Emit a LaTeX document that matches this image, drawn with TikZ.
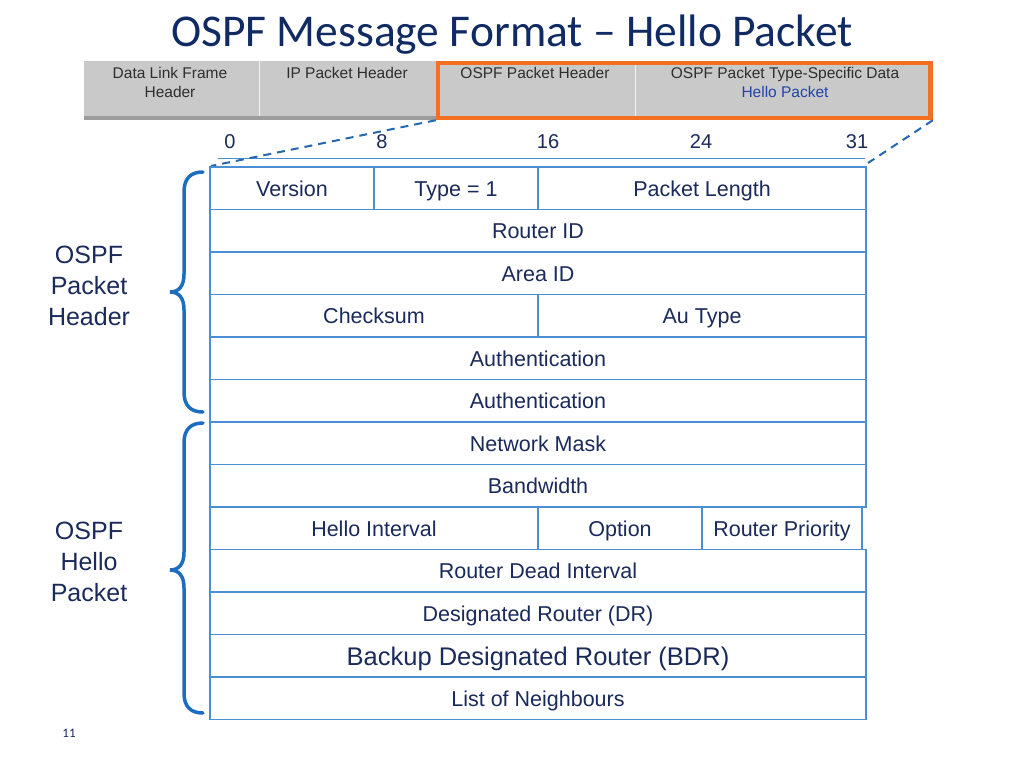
\documentclass[tikz,border=0pt]{standalone}
\usepackage{fontspec}
\setmainfont{Liberation Sans}
\newfontfamily\titlefont{Carlito}

\definecolor{titlenavy}{HTML}{102A63}
\definecolor{textnavy}{HTML}{1A2A5A}
\definecolor{tblblue}{HTML}{4A8FD3}
\definecolor{braceblue}{HTML}{1F6DBE}
\definecolor{dashblue}{HTML}{2468B0}
\definecolor{selorange}{HTML}{F36F21}
\definecolor{bargray}{HTML}{C9C9C9}
\definecolor{barshade}{HTML}{9C9C9C}
\definecolor{bartext}{HTML}{2E2E2E}
\definecolor{hellobl}{HTML}{2244A8}

\tikzset{
  cell/.style={draw=tblblue, line width=1.2pt},
  celltext/.style={text=textnavy, font=\fontsize{21.5}{24}\selectfont, text height=19.4pt, text depth=3.4pt},
  bittext/.style={text=textnavy, font=\fontsize{20}{22}\selectfont},
  bartxt/.style={text=bartext, font=\fontsize{15.5}{19}\selectfont, align=center, anchor=north, inner sep=0pt},
  sidelabel/.style={text=textnavy, font=\fontsize{25}{31}\selectfont, align=center},
  bracepath/.style={draw=braceblue, line width=3.5pt, line cap=round},
  zoomline/.style={draw=dashblue, line width=2pt, dash pattern=on 8pt off 6pt},
}

\begin{document}
\begin{tikzpicture}[x=1pt,y=-1pt]
        \useasboundingbox (0,0) rectangle (1024,768);
        \fill[white] (0,0) rectangle (1024,768);

        \node[anchor=base, text=titlenavy, font=\titlefont\fontsize{45.5}{50}\selectfont] (title) at (512,46) {OSPF Message Format – Hello Packet};

        % frame bar
        \fill[bargray] (84,61) rectangle (930,116);
        \fill[barshade] (84,116) rectangle (930,120);
        \draw[white!90!gray, line width=1pt] (259,61) -- (259,116);
        \draw[white!90!gray, line width=1pt] (635,61) -- (635,116);
        \node[bartxt] (dlf) at (170,67) {Data Link Frame\\Header};
        \node[bartxt] (iph) at (347,67) {IP Packet Header};
        \node[bartxt] (oph) at (535,67) {OSPF Packet Header};
        \node[bartxt] (tsd) at (785,67) {OSPF Packet Type-Specific Data\\\textcolor{hellobl}{Hello Packet}};
        \node[draw=selorange, line width=4.5pt, minimum width=492.5pt, minimum height=55pt, inner sep=0pt] (sel) at (684.25,90.5) {};

        % bit numbers
        \node[bittext] (b0) at (230,142) {0};
        \node[bittext] (b8) at (382,142) {8};
        \node[bittext] (b16) at (548,142) {16};
        \node[bittext] (b24) at (701,142) {24};
        \node[bittext] (b31) at (857,142) {31};
        \draw[tblblue, line width=0.8pt] (218,158) -- (865,158);

        \coordinate (tabNW) at (211,166);
        \coordinate (tabNE) at (868,163);
        \draw[zoomline] (sel.south west) -- (tabNW);
        \draw[zoomline] (sel.south east) -- (tabNE);

        % header rows
        \draw[cell] (210,167) rectangle (374,209.5) node[celltext,pos=0.5] (ver) {Version};
        \draw[cell] (374,167) rectangle (538,209.5) node[celltext,pos=0.5] (typ) {Type = 1};
        \draw[cell] (538,167) rectangle (866,209.5) node[celltext,pos=0.5] (plen) {Packet Length};
        \draw[cell] (210,209.5) rectangle (866,252) node[celltext,pos=0.5] (rid) {Router ID};
        \draw[cell] (210,252) rectangle (866,294.5) node[celltext,pos=0.5] (aid) {Area ID};
        \draw[cell] (210,294.5) rectangle (538,337) node[celltext,pos=0.5] (chk) {Checksum};
        \draw[cell] (538,294.5) rectangle (866,337) node[celltext,pos=0.5] (aut) {Au Type};
        \draw[cell] (210,337) rectangle (866,379.5) node[celltext,pos=0.5] (auth1) {Authentication};
        \draw[cell] (210,379.5) rectangle (866,422) node[celltext,pos=0.5] (auth2) {Authentication};

        % hello rows
        \draw[cell] (210,422) rectangle (866,464.5) node[celltext,pos=0.5] (nmask) {Network Mask};
        \draw[cell] (210,464.5) rectangle (866,507) node[celltext,pos=0.5] (bw) {Bandwidth};
        \draw[cell] (210,507) rectangle (538,549.5) node[celltext,pos=0.5] (hint) {Hello Interval};
        \draw[cell] (538,507) rectangle (702,549.5) node[celltext,pos=0.5] (opt) {Option};
        \draw[cell] (702,507) rectangle (862,549.5) node[celltext,pos=0.5] (rprio) {Router Priority};
        \draw[cell] (210,549.5) rectangle (866,592) node[celltext,pos=0.5] (rdi) {Router Dead Interval};
        \draw[cell] (210,592) rectangle (866,634.5) node[celltext,pos=0.5] (dr) {Designated Router (DR)};
        \draw[cell] (210,634.5) rectangle (866,677) node[celltext,pos=0.5,font=\fontsize{25.5}{28}\selectfont,text height=23pt,text depth=4pt] (bdr) {Backup Designated Router (BDR)};
        \draw[cell] (210,677) rectangle (866,719.5) node[celltext,pos=0.5] (nbrs) {List of Neighbours};

        % braces
        \draw[bracepath] (203,172) .. controls (191,172) and (184,178) .. (184,192) -- (184,274) .. controls (184,286) and (179,292) .. (170,292) .. controls (179,292) and (184,298) .. (184,310) -- (184,392) .. controls (184,406) and (191,412) .. (203,412);
        \draw[bracepath] (203,423) .. controls (191,423) and (184,429) .. (184,443) -- (184,552) .. controls (184,564) and (179,570) .. (170,570) .. controls (179,570) and (184,576) .. (184,588) -- (184,693) .. controls (184,707) and (191,713) .. (203,713);
        \node[sidelabel] (hdrlbl) at (89,286) {OSPF\\Packet\\Header};
        \node[sidelabel] (hellolbl) at (89,562) {OSPF\\Hello\\Packet};

        \node[text=textnavy, font=\titlefont\fontsize{13}{15}\selectfont] (pnum) at (69,733) {11};
    \end{tikzpicture}
\end{document}
